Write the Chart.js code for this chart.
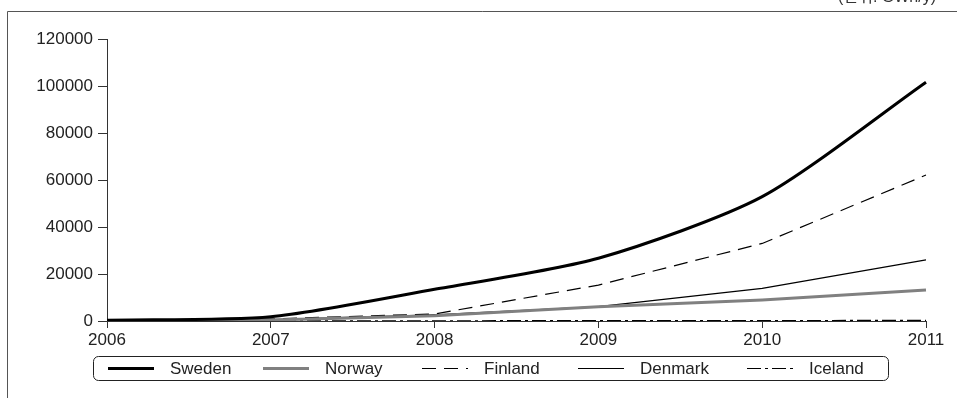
<!DOCTYPE html>
<html>
<head>
<meta charset="utf-8">
<script src="https://cdn.jsdelivr.net/npm/chart.js@4.4.1/dist/chart.umd.min.js"></script>
<style>
  html, body { margin: 0; padding: 0; background: #fff; }
</style>
</head>
<body>
<canvas id="chart" width="957" height="398"></canvas>
<script>
// data
const years = ['2006', '2007', '2008', '2009', '2010', '2011'];
const sweden  = [300, 1800, 13500, 26700, 52900, 101600];
const norway  = [100, 400, 2200, 6100, 8900, 13200];
const finland = [200, 900, 3000, 15300, 33000, 62100];
const denmark = [100, 600, 2600, 6100, 13900, 26000];
const iceland = [0, 50, 100, 150, 200, 250];
const yMax = 120000;
const yStep = 20000;
const unitLabel = '(단위: GWh/y)';

const FONT = '"Liberation Sans", Arial, "Noto Sans CJK KR", sans-serif';
const legendX = [108, 263, 422, 578, 747];

// frame, cut-off unit label and the boxed legend
const decor = {
  id: 'decor',
  afterDraw(chart) {
    const ctx = chart.ctx;
    ctx.save();
    ctx.strokeStyle = '#555';
    ctx.lineWidth = 1;
    ctx.beginPath();
    ctx.moveTo(7.5, 398);
    ctx.lineTo(7.5, 11.5);
    ctx.lineTo(957, 11.5);
    ctx.stroke();

    ctx.fillStyle = '#333';
    ctx.font = '16px ' + FONT;
    ctx.textAlign = 'right';
    ctx.textBaseline = 'alphabetic';
    ctx.fillText(unitLabel, 936, 2);

    // legend box
    ctx.strokeStyle = '#222';
    ctx.beginPath();
    ctx.roundRect(93.5, 356.5, 795, 24, 5);
    ctx.stroke();

    ctx.textAlign = 'left';
    ctx.textBaseline = 'middle';
    ctx.font = '17px ' + FONT;
    chart.data.datasets.forEach((ds, i) => {
      const x0 = legendX[i];
      const y = 368.5;
      ctx.strokeStyle = ds.borderColor;
      ctx.lineWidth = ds.borderWidth;
      ctx.setLineDash(ds.borderDash || []);
      ctx.beginPath();
      ctx.moveTo(x0, y);
      ctx.lineTo(x0 + 46, y);
      ctx.stroke();
      ctx.setLineDash([]);
      ctx.fillStyle = '#222';
      ctx.fillText(ds.label, x0 + 62, y + 1);
    });
    ctx.restore();
  }
};

new Chart(document.getElementById('chart'), {
  type: 'line',
  data: {
    labels: years,
    datasets: [
      { label: 'Sweden', data: sweden, borderColor: '#000', borderWidth: 3, tension: 0.25 },
      { label: 'Norway', data: norway, borderColor: '#808080', borderWidth: 3 },
      { label: 'Finland', data: finland, borderColor: '#000', borderWidth: 1.2, borderDash: [14, 8] },
      { label: 'Denmark', data: denmark, borderColor: '#000', borderWidth: 1.2 },
      { label: 'Iceland', data: iceland, borderColor: '#000', borderWidth: 1.2, borderDash: [14, 4, 3, 4] }
    ]
  },
  options: {
    responsive: false,
    animation: false,
    devicePixelRatio: 1,
    elements: { point: { radius: 0 }, line: { tension: 0 } },
    layout: { padding: { top: 39, right: 31, bottom: 0, left: 0 } },
    plugins: { legend: { display: false }, tooltip: { enabled: false } },
    scales: {
      x: {
        offset: false,
        grid: { drawOnChartArea: false, drawTicks: true, tickLength: 7, color: '#333' },
        border: { color: '#333', width: 1 },
        ticks: { color: '#222', font: { family: FONT, size: 17 }, padding: 2, maxRotation: 0, autoSkip: false },
        afterFit: s => { s.height = 77; }
      },
      y: {
        min: 0,
        max: yMax,
        grid: { drawOnChartArea: false, drawTicks: true, tickLength: 9, color: '#333' },
        border: { color: '#333', width: 1 },
        ticks: { stepSize: yStep, color: '#222', font: { family: FONT, size: 17 }, padding: 5, callback: v => String(v) },
        afterFit: s => { s.width = 107; }
      }
    }
  },
  plugins: [decor]
});
</script>
</body>
</html>
